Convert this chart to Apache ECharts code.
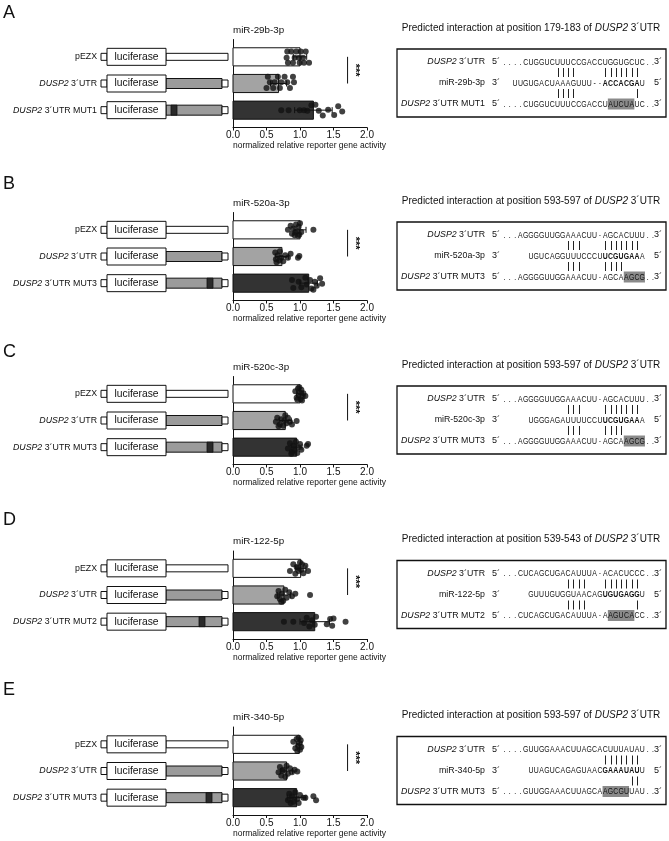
<!DOCTYPE html>
<html><head><meta charset="utf-8">
<script src="https://cdn.jsdelivr.net/npm/echarts@6/dist/echarts.min.js"></script>
<style>html,body{margin:0;padding:0;background:#fff}#c{width:669px;height:841px}</style>
</head><body><div id="c"></div>
<script>
// ---------------- DATA ----------------
const panelLetters = ['A', 'B', 'C', 'D', 'E'];
const mirNames = ['miR-29b-3p', 'miR-520a-3p', 'miR-520c-3p', 'miR-122-5p', 'miR-340-5p'];
const mutNames = ['MUT1', 'MUT3', 'MUT3', 'MUT2', 'MUT3'];
const sitePositions = ['179-183', '593-597', '593-597', '539-543', '593-597'];
const constructNames = ['pEZX', 'DUSP2 3´UTR', 'DUSP2 3´UTR MUT'];
const axisTitle = 'normalized relative reporter gene activity';
const sigLabels = ['***', '***', '***', '***', '***'];
const sigValue = [1.71, 1.71, 1.71, 1.71, 1.71];

// bar means (pEZX, DUSP2 3'UTR, MUT) and SD
const barMeans = [
  [1.00, 0.68, 1.20],
  [1.00, 0.73, 1.13],
  [1.00, 0.78, 0.95],
  [1.01, 0.76, 1.22],
  [0.99, 0.80, 0.95]
];
const barSDs = [
  [0.10, 0.12, 0.28],
  [0.09, 0.10, 0.13],
  [0.05, 0.09, 0.08],
  [0.08, 0.10, 0.22],
  [0.04, 0.09, 0.14]
];

// individual replicate points [value, vertical jitter within row]
const pointsA = [
  [[0.81,-0.2],[0.87,-0.2],[0.945,-0.2],[1.01,-0.2],[1.085,-0.2],[0.80,0.03],[0.92,0.03],[0.985,0.03],[1.045,0.03],[0.82,0.22],[0.895,0.22],[0.995,0.22],[1.06,0.22],[1.135,0.22]],
  [[0.52,-0.25],[0.67,-0.25],[0.77,-0.25],[0.895,-0.25],[0.55,-0.05],[0.62,-0.05],[0.72,-0.05],[0.81,-0.05],[0.91,-0.05],[0.50,0.17],[0.60,0.17],[0.70,0.17],[0.85,0.17]],
  [[0.72,0.0],[0.83,0.0],[0.995,0.0],[1.06,0.0],[1.11,0.02],[1.17,-0.18],[1.23,-0.2],[1.34,0.2],[1.42,-0.02],[1.51,0.18],[1.57,-0.15],[1.63,0.05],[1.28,0.02]]
];
const pointsB = [
  [[0.82,0.0],[0.86,-0.15],[0.88,0.15],[0.9,-0.05],[0.92,0.2],[0.94,-0.2],[0.96,0.05],[0.98,-0.12],[0.99,0.18],[1.0,-0.25],[1.02,0.08],[0.93,0.1],[0.97,0.22],[1.2,0.0]],
  [[0.63,-0.15],[0.64,0.1],[0.65,0.22],[0.67,-0.05],[0.69,0.15],[0.7,-0.2],[0.72,0.05],[0.75,0.18],[0.78,-0.05],[0.82,0.05],[0.86,-0.1],[0.97,0.05],[0.99,-0.02]],
  [[0.88,-0.12],[0.9,0.18],[0.98,-0.05],[1.02,0.15],[1.08,-0.2],[1.1,0.05],[1.15,-0.12],[1.17,0.2],[1.22,-0.05],[1.25,0.1],[1.3,-0.18],[1.33,0.02],[1.2,0.25]]
];
const pointsC = [
  [[0.93,-0.1],[0.95,0.15],[0.97,-0.2],[0.98,0.05],[1.0,-0.05],[1.01,0.2],[1.02,-0.15],[1.04,0.1],[1.05,-0.02],[1.08,0.08],[0.96,0.22],[0.99,-0.25],[1.03,0.25]],
  [[0.64,0.05],[0.66,-0.1],[0.7,0.15],[0.72,-0.05],[0.75,0.2],[0.78,-0.2],[0.8,0.1],[0.82,-0.1],[0.85,0.05],[0.88,0.15],[0.95,0.02],[0.68,0.22],[0.77,0.0]],
  [[0.82,0.05],[0.85,-0.15],[0.88,0.18],[0.9,-0.05],[0.92,0.12],[0.94,-0.2],[0.96,0.22],[0.98,0.0],[1.0,-0.12],[1.02,0.1],[1.1,-0.05],[1.12,-0.12],[0.87,0.25]]
];
const pointsD = [
  [[0.85,0.1],[0.9,-0.15],[0.93,0.2],[0.95,-0.05],[0.98,0.1],[1.0,-0.22],[1.02,0.05],[1.05,0.18],[1.08,-0.1],[1.12,0.1],[0.97,-0.02],[1.03,-0.15]],
  [[0.66,0.05],[0.68,-0.15],[0.7,0.15],[0.73,-0.05],[0.75,0.22],[0.78,-0.2],[0.8,0.1],[0.84,-0.1],[0.88,0.05],[0.93,-0.05],[1.15,0.0],[0.72,0.25]],
  [[0.76,0.0],[0.9,0.0],[1.06,0.05],[1.1,-0.15],[1.14,0.18],[1.18,-0.05],[1.22,0.12],[1.24,-0.18],[1.4,0.1],[1.45,-0.1],[1.48,0.15],[1.5,-0.12],[1.68,0.0]]
];
const pointsE = [
  [[0.9,-0.1],[0.93,0.15],[0.95,-0.2],[0.97,0.05],[0.99,-0.05],[1.0,0.2],[1.01,-0.15],[1.02,0.1],[0.96,0.25],[0.98,-0.25]],
  [[0.68,0.05],[0.7,-0.15],[0.72,0.18],[0.75,-0.05],[0.78,0.22],[0.8,-0.2],[0.82,0.1],[0.85,-0.1],[0.88,0.05],[0.92,-0.05],[0.96,0.02],[0.74,0.0]],
  [[0.82,0.1],[0.84,-0.15],[0.86,0.2],[0.88,-0.05],[0.9,0.15],[0.93,-0.2],[0.96,0.05],[0.98,0.2],[1.0,-0.1],[1.05,0.0],[1.08,0.0],[1.2,-0.05],[1.24,0.1]]
];
const allPoints = [pointsA, pointsB, pointsC, pointsD, pointsE];

// sequence alignments (column-aligned strings)
const seqUtr = [
  '....CUGGUCUUUCCGACCUGGUGCUC..',
  '...AGGGGUUGGAAACUU-AGCACUUU..',
  '...AGGGGUUGGAAACUU-AGCACUUU..',
  '...CUCAGCUGACAUUUA-ACACUCCC..',
  '....GUUGGAAACUUAGCACUUUAUAU..'
];
const seqMir = [
  '  UUGUGACUAAAGUUU--ACCACGAU',
  '     UGUCAGGUUUCCCUUCGUGAAA',
  '     UGGGAGAUUUUCCUUCGUGAAA',
  '     GUUUGUGGUAACAGUGUGAGGU',
  '     UUAGUCAGAGUAACGAAAUAUU'
];
const seqMut = [
  '....CUGGUCUUUCCGACCUAUCUAUC..',
  '...AGGGGUUGGAAACUU-AGCAAGCG..',
  '...AGGGGUUGGAAACUU-AGCAAGCG..',
  '...CUCAGCUGACAUUUA-AAGUCACC..',
  '....GUUGGAAACUUAGCAAGCGUUAU..'
];
const pairsTop = [
  '          ||||     |||||||',
  '            |||    |||||||',
  '            |||    |||||||',
  '            ||||   |||||||',
  '                   |||||||'
];
const pairsBottom = [
  '          ||||           |',
  '            |||    ||||',
  '            |||    ||||',
  '            ||||         |',
  '                        ||'
];
const seedCols = [[19,25],[19,25],[19,25],[19,25],[19,25]];
const mutCols = [[20,24],[23,26],[23,26],[20,24],[19,23]];

// ---------------- LAYOUT / STYLE ----------------
const FONT = '"Liberation Sans", Arial, Helvetica, sans-serif';
const TXT = '#111';
const panelBase = [30, 203, 367, 541.5, 717.5];
const letterY = [13, 184, 352, 520, 690];
const GRID_LEFT = 233, GRID_W = 134;
const BAR_H = 0.68;
const barColors = ['#ffffff', '#a3a3a3', '#333333'];
const mutBandX = [171, 207, 207, 199, 206];
const SEQ_X0 = 504.5, SEQ_STEP = 5.3;

const chart = echarts.init(document.getElementById('c'), null, {renderer: 'canvas'});

const grids = [], xAxes = [], yAxes = [], series = [];
panelLetters.forEach((L, i) => {
  const base = panelBase[i];
  grids.push({left: GRID_LEFT, width: GRID_W, top: base + 9.5, height: 88});
  xAxes.push({
    gridIndex: i, type: 'value', min: 0, max: 2, interval: 0.5,
    axisLine: {show: true, onZero: false, lineStyle: {color: '#111', width: 1}},
    axisTick: {show: true, length: 3, lineStyle: {color: '#111'}},
    axisLabel: {formatter: v => v.toFixed(1), fontSize: 10, fontFamily: FONT, color: TXT, margin: 3},
    splitLine: {show: false}
  });
  yAxes.push({
    gridIndex: i, type: 'value', min: -0.65, max: 2.65, inverse: true,
    axisLine: {show: true, onZero: false, lineStyle: {color: '#111', width: 1}},
    axisTick: {show: false}, axisLabel: {show: false}, splitLine: {show: false}
  });
  // bars
  series.push({
    type: 'custom', xAxisIndex: i, yAxisIndex: i, z: 2, silent: true,
    data: barMeans[i].map((m, r) => [m, r]),
    renderItem: (p, api) => {
      const r = api.value(1);
      const a = api.coord([0, r]);
      const b = api.coord([api.value(0), r]);
      const h = api.size([0, BAR_H])[1];
      return {type: 'rect', shape: {x: a[0], y: a[1] - h / 2, width: b[0] - a[0], height: h},
        style: {fill: barColors[r], stroke: '#111', lineWidth: 1}};
    }
  });
  // replicate points
  series.push({
    type: 'scatter', xAxisIndex: i, yAxisIndex: i, z: 3, silent: true,
    symbolSize: 6, itemStyle: {color: '#111'},
    data: allPoints[i].map((pts, r) => pts.map(([x, dy]) => [x, r + dy])).flat()
  });
  // error bars
  series.push({
    type: 'custom', xAxisIndex: i, yAxisIndex: i, z: 4, silent: true,
    data: barMeans[i].map((m, r) => [m, r, barSDs[i][r]]),
    renderItem: (p, api) => {
      const m = api.value(0), r = api.value(1), sd = api.value(2);
      const lo = api.coord([m - sd, r]), hi = api.coord([m + sd, r]);
      const st = {stroke: '#111', lineWidth: 1};
      return {type: 'group', children: [
        {type: 'line', shape: {x1: lo[0], y1: lo[1], x2: hi[0], y2: hi[1]}, style: st},
        {type: 'line', shape: {x1: lo[0], y1: lo[1] - 3, x2: lo[0], y2: lo[1] + 3}, style: st},
        {type: 'line', shape: {x1: hi[0], y1: hi[1] - 3, x2: hi[0], y2: hi[1] + 3}, style: st}
      ]};
    }
  });
  // significance bracket
  series.push({
    type: 'custom', xAxisIndex: i, yAxisIndex: i, z: 4, silent: true,
    data: [[sigValue[i], 0, 1]],
    renderItem: (p, api) => {
      const x = api.value(0);
      const a = api.coord([x, api.value(1)]), b = api.coord([x, api.value(2)]);
      return {type: 'group', children: [
        {type: 'line', shape: {x1: a[0], y1: a[1], x2: b[0], y2: b[1]}, style: {stroke: '#111', lineWidth: 1}},
        {type: 'text', x: a[0] + 7, y: (a[1] + b[1]) / 2, rotation: -Math.PI / 2,
          style: {text: sigLabels[i], fontSize: 11, fontWeight: 'bold', fontFamily: FONT, fill: TXT,
            align: 'center', verticalAlign: 'middle'}}
      ]};
    }
  });
});

chart.setOption({
  animation: false,
  backgroundColor: '#fff',
  grid: grids, xAxis: xAxes, yAxis: yAxes, series: series
});

// ---------------- ANNOTATION GRAPHICS ----------------
const els = [];
function txt(x, y, text, size, opt) {
  opt = opt || {};
  els.push({type: 'text', x: x, y: y, silent: true, scaleX: opt.scaleX || 1, z: 10,
    style: {text: text, fontSize: size, fontFamily: FONT, fill: TXT,
      align: opt.align || 'left', verticalAlign: 'middle',
      fontWeight: opt.bold ? 'bold' : 'normal',
      rich: {i: {fontStyle: 'italic', fontSize: size, fontFamily: FONT, fill: TXT}}}});
}
function rect(x, y, w, h, fill, lw) {
  els.push({type: 'rect', silent: true, z: 5, shape: {x: x, y: y, width: w, height: h},
    style: {fill: fill, stroke: lw === 0 ? null : '#111', lineWidth: lw === undefined ? 1 : lw}});
}
function vline(x, y1, y2) {
  els.push({type: 'line', silent: true, z: 6, shape: {x1: x, y1: y1, x2: x, y2: y2},
    style: {stroke: '#222', lineWidth: 1}});
}

panelLetters.forEach((L, i) => {
  const base = panelBase[i];
  txt(3, letterY[i], L, 18);
  txt(GRID_LEFT, base, mirNames[i], 9.8);
  txt(GRID_LEFT, base + 116, axisTitle, 8.5);

  // construct diagrams
  for (let r = 0; r < 3; r++) {
    const cy = chart.convertToPixel({gridIndex: i}, [0, r])[1];
    const lab = r === 2 ? constructNames[2].replace('DUSP2', '{i|DUSP2}') + mutNames[i].replace('MUT', '') : constructNames[r].replace('DUSP2', '{i|DUSP2}');
    txt(97, cy, lab, 8.8, {align: 'right'});
    rect(101, cy - 3.5, 6, 7, '#fff');
    if (r === 0) {
      rect(166, cy - 3.5, 62, 7, '#fff');
    } else {
      rect(166, cy - 5, 56, 10, '#9b9b9b');
      rect(222, cy - 3.5, 6, 7, '#fff');
      if (r === 2) rect(mutBandX[i], cy - 5, 6, 10, '#2a2a2a', 0.8);
    }
    rect(107, cy - 8.5, 59, 17, '#fff');
    txt(136.5, cy, 'luciferase', 10.3, {align: 'center'});
  }

  // interaction box
  txt(531, base - 2, 'Predicted interaction at position ' + sitePositions[i] + ' of {i|DUSP2} 3´UTR', 10, {align: 'center'});
  const bt = base + 19;
  rect(397, bt, 269, 68, 'none', 1.3);
  const y1 = bt + 13, yp1 = bt + 23.5, y2 = bt + 34, yp2 = bt + 44.5, y3 = bt + 55;
  txt(485, y1, '{i|DUSP2} 3´UTR', 8.8, {align: 'right'});
  txt(485, y2, mirNames[i], 8.8, {align: 'right'});
  txt(485, y3, '{i|DUSP2} 3´UTR ' + mutNames[i], 8.8, {align: 'right'});
  txt(492, y1, '5´', 9); txt(492, y2, '3´', 9); txt(492, y3, '5´', 9);
  txt(654, y1, '3´', 9); txt(654, y2, '5´', 9); txt(654, y3, '3´', 9);
  const colX = c => SEQ_X0 + c * SEQ_STEP;
  // highlight of mutated bases
  const hl = mutCols[i];
  rect(colX(hl[0]) - SEQ_STEP / 2, y3 - 5.5, (hl[1] - hl[0] + 1) * SEQ_STEP, 11, '#8a8a8a', 0);
  function row(str, y, boldRange) {
    for (let c = 0; c < str.length; c++) {
      const ch = str[c];
      if (ch === ' ') continue;
      const bold = boldRange && c >= boldRange[0] && c <= boldRange[1];
      txt(colX(c), y, ch, 9.6, {align: 'center', scaleX: 0.72, bold: bold});
    }
  }
  row(seqUtr[i], y1);
  row(seqMir[i], y2, seedCols[i]);
  row(seqMut[i], y3);
  [[pairsTop[i], yp1], [pairsBottom[i], yp2]].forEach(([s, y]) => {
    for (let c = 0; c < s.length; c++) if (s[c] === '|') vline(Math.round(colX(c)) + 0.5, y - 4.5, y + 4.5);
  });
});

chart.setOption({graphic: {elements: els}});
</script>
</body></html>
